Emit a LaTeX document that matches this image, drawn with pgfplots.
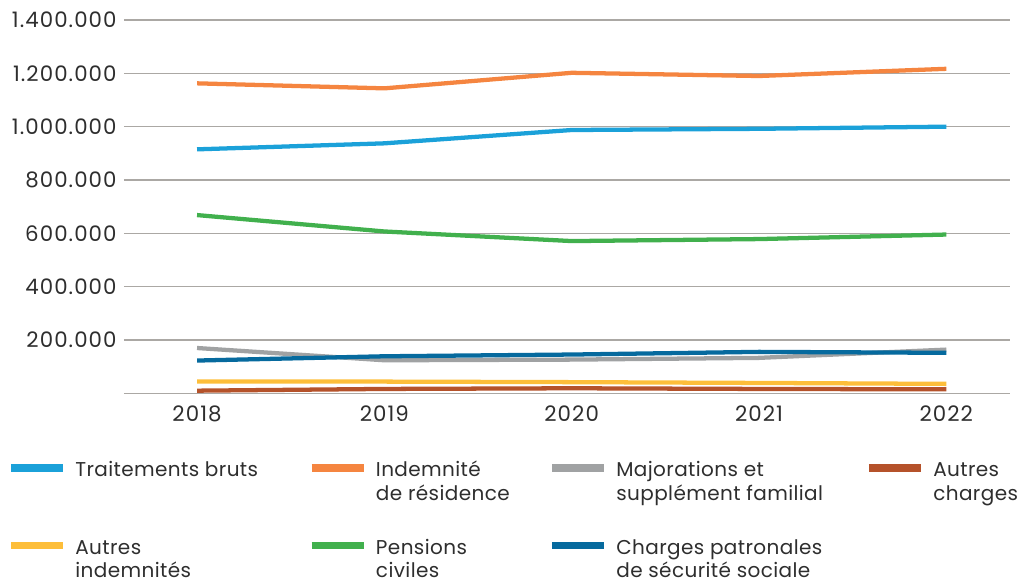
\documentclass[border=0pt]{standalone}
\usepackage{pgfplots}
\pgfplotsset{compat=1.18}
\usepackage{fontspec}
\setmainfont{Poppins}
\newfontfamily\tickfont[LetterSpace=5]{Poppins}
\newfontfamily\legfont[LetterSpace=2]{Poppins}

\definecolor{cTrait}{HTML}{1BA1D9}
\definecolor{cIndem}{HTML}{F58540}
\definecolor{cMajor}{HTML}{A0A2A3}
\definecolor{cAutCh}{HTML}{B5522A}
\definecolor{cAutIn}{HTML}{FDBE3A}
\definecolor{cPens}{HTML}{41B04D}
\definecolor{cCharg}{HTML}{066A9E}
\definecolor{gridgray}{HTML}{ABA8A4}
\definecolor{txt}{HTML}{2E2E2E}

\begin{document}
\begin{tikzpicture}
\useasboundingbox (-93pt,-145.3pt) rectangle (669.75pt,295pt);
\begin{axis}[
  scale only axis,
  width=664.5pt, height=280pt,
  xmin=2017.61, xmax=2022.34,
  ymin=0, ymax=1400000,
  axis lines*=left,
  y axis line style={draw=none},
  x axis line style={draw=gridgray, line width=1.2pt},
  major tick length=0pt,
  tick style={draw=none},
  xtick={2018,2019,2020,2021,2022},
  xticklabels={2018,2019,2020,2021,2022},
  ytick={200000,400000,600000,800000,1000000,1200000,1400000},
  yticklabel={\pgfmathprintnumber[fixed,1000 sep={.},assume math mode=true]{\tick}},
  scaled y ticks=false,
  ymajorgrids=true,
  grid style={gridgray, line width=1.1pt},
  ticklabel style={font=\tickfont\fontsize{16}{19}\selectfont, text=txt},
  xticklabel style={yshift=-6pt},
  yticklabel style={xshift=-2pt},
  every axis plot/.append style={line width=3.2pt},
  legend columns=4,
  legend cell align=left,
  legend style={draw=none, fill=none, at={(0,0)}, anchor=north west,
    xshift=-84.75pt, yshift=-49pt, inner sep=0pt, outer sep=0pt,
    row sep=41pt, column sep=0pt, text=txt,
    font=\legfont\fontsize{15}{17.5}\selectfont,
    cells={anchor=base west, inner sep=0pt}},
  legend image code/.code={
    \path[draw=none] (0pt,0pt) rectangle (46.25pt,0pt);
    \draw[#1, overlay, line width=5.8pt] (0pt,6.5pt) -- (39pt,6.5pt);},
]

\addplot[color=cTrait] coordinates {
  (2018,915000)(2019,937500)(2020,987500)(2021,992000)(2022,1000000)};
\addlegendentry{\parbox[t]{175.25pt}{Traitements bruts}}

\addplot[color=cIndem] coordinates {
  (2018,1162500)(2019,1143700)(2020,1202000)(2021,1190000)(2022,1217000)};
\addlegendentry{\parbox[t]{130pt}{Indemnité\\de résidence}}

\addplot[color=cMajor] coordinates {
  (2018,170000)(2019,124000)(2020,126500)(2021,133000)(2022,164000)};
\addlegendentry{\parbox[t]{187.5pt}{Majorations et\\supplément familial}}

\addplot[color=cAutCh] coordinates {
  (2018,10000)(2019,16500)(2020,19000)(2021,16500)(2022,15000)};
\addlegendentry{\parbox[t]{62pt}{Autres\\charges}}

\addplot[color=cAutIn] coordinates {
  (2018,44000)(2019,44000)(2020,42000)(2021,39000)(2022,35500)};
\addlegendentry{\parbox[t]{175.25pt}{Autres\\indemnités}}

\addplot[color=cPens] coordinates {
  (2018,668500)(2019,607000)(2020,571000)(2021,578500)(2022,595500)};
\addlegendentry{\parbox[t]{130pt}{Pensions\\civiles}}

\addplot[color=cCharg] coordinates {
  (2018,123000)(2019,139000)(2020,145500)(2021,155500)(2022,152000)};
\addlegendentry{\parbox[t]{187.5pt}{Charges patronales\\de sécurité sociale}}

\end{axis}
\end{tikzpicture}
\end{document}
